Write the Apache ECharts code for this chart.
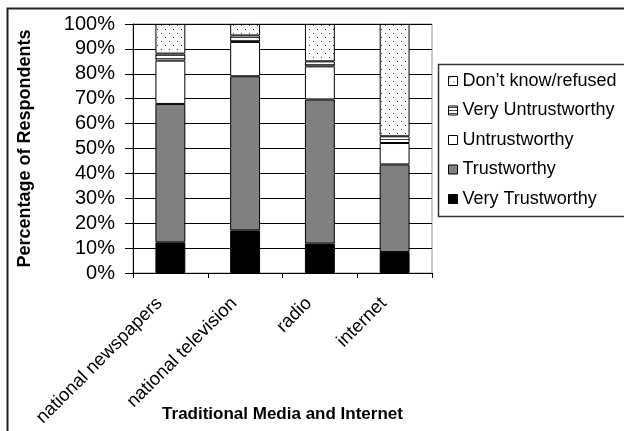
<!DOCTYPE html>
<html>
<head>
<meta charset="utf-8">
<script src="https://cdn.jsdelivr.net/npm/echarts@6/dist/echarts.min.js"></script>
<style>html,body{margin:0;padding:0;background:#fff;}#c{width:624px;height:431px;}</style>
</head>
<body>
<div id="c"></div>
<script>
var categories = ['national newspapers', 'national television', 'radio', 'internet'];
var seriesNames = ['Very Trustworthy', 'Trustworthy', 'Untrustworthy', 'Very Untrustworthy', 'Don\u2019t know/refused'];
var veryTrustworthy = [12.3, 17.1, 11.8, 8.4];
var trustworthy = [55.6, 61.9, 57.9, 35.2];
var untrustworthy = [17.4, 13.8, 13.3, 8.6];
var veryUntrustworthy = [2.8, 2.6, 2.0, 2.7];
var dontKnow = [11.9, 4.6, 15.0, 45.1];
var yTicks = [0, 10, 20, 30, 40, 50, 60, 70, 80, 90, 100];

var FONT = '"Liberation Sans", Arial, sans-serif';

function dotPattern() {
  var c = document.createElement('canvas');
  c.width = 8; c.height = 8;
  var g = c.getContext('2d');
  g.fillStyle = '#fff'; g.fillRect(0, 0, 8, 8);
  g.fillStyle = '#333';
  g.fillRect(1, 1, 1, 1);
  g.fillRect(5, 5, 1, 1);
  return { image: c, repeat: 'repeat' };
}
function linePattern() {
  var c = document.createElement('canvas');
  c.width = 4; c.height = 3;
  var g = c.getContext('2d');
  g.fillStyle = '#fff'; g.fillRect(0, 0, 4, 3);
  g.fillStyle = '#444';
  g.fillRect(0, 1, 4, 1);
  return { image: c, repeat: 'repeat' };
}

var colors = ['#000000', '#808080', '#ffffff', linePattern(), dotPattern()];
var values = [veryTrustworthy, trustworthy, untrustworthy, veryUntrustworthy, dontKnow];

var chart = echarts.init(document.getElementById('c'), null, { renderer: 'canvas' });
var series = seriesNames.map(function (n, i) {
  return {
    name: n,
    type: 'bar',
    stack: 'total',
    barWidth: '40%',
    data: values[i],
    itemStyle: { color: colors[i], borderColor: '#000', borderWidth: 1 },
    emphasis: { disabled: true }
  };
});

chart.setOption({
  animation: false,
  backgroundColor: '#fff',
  textStyle: { fontFamily: FONT },
  grid: { left: 133, top: 24, right: 192, bottom: 158, show: true, borderColor: '#999', borderWidth: 1, containLabel: false, outerBoundsMode: 'none' },
  legend: {
    orient: 'vertical',
    left: 448,
    top: 72,
    padding: 0,
    itemWidth: 9,
    itemHeight: 9,
    itemGap: 11.5,
    icon: 'rect',
    selectedMode: false,
    textStyle: { fontSize: 18, color: '#000', fontFamily: FONT },
    data: seriesNames.slice().reverse().map(function (n) {
      return { name: n, itemStyle: { borderColor: '#000', borderWidth: 1 } };
    })
  },
  xAxis: {
    type: 'category',
    data: categories,
    name: 'Traditional Media and Internet',
    nameLocation: 'middle',
    nameGap: 133,
    nameMoveOverlap: false,
    nameTextStyle: { fontSize: 17, fontWeight: 'bold', color: '#000', fontFamily: FONT },
    axisLine: { lineStyle: { color: '#000', width: 1 } },
    axisTick: { show: true, alignWithLabel: false, length: 5, lineStyle: { color: '#000' } },
    axisLabel: { rotate: 45, fontSize: 18.5, color: '#000', margin: 30, padding: [0, 6, 0, 0], verticalAlign: 'bottom', interval: 0, fontFamily: FONT },
    splitLine: { show: false }
  },
  yAxis: {
    type: 'value',
    min: yTicks[0],
    max: yTicks[yTicks.length - 1],
    interval: yTicks[1] - yTicks[0],
    name: 'Percentage of Respondents',
    nameLocation: 'middle',
    nameGap: 99,
    nameTextStyle: { fontSize: 18, fontWeight: 'bold', color: '#000', fontFamily: FONT },
    axisLine: { show: true, lineStyle: { color: '#000', width: 1 } },
    axisTick: { show: true, inside: false, length: 8, lineStyle: { color: '#000' } },
    axisLabel: { formatter: '{value}%', fontSize: 20, color: '#000', margin: 18, fontFamily: FONT },
    splitLine: { show: true, lineStyle: { color: '#000', width: 1 } }
  },
  graphic: [
    { type: 'rect', left: 5, top: 6, shape: { width: 660, height: 424 }, style: { fill: 'none', stroke: '#222', lineWidth: 2 }, silent: true },
    { type: 'rect', left: 436, top: 62, shape: { width: 220, height: 152 }, style: { fill: 'none', stroke: '#333', lineWidth: 1.5 }, silent: true }
  ],
  series: series
});
</script>
</body>
</html>
